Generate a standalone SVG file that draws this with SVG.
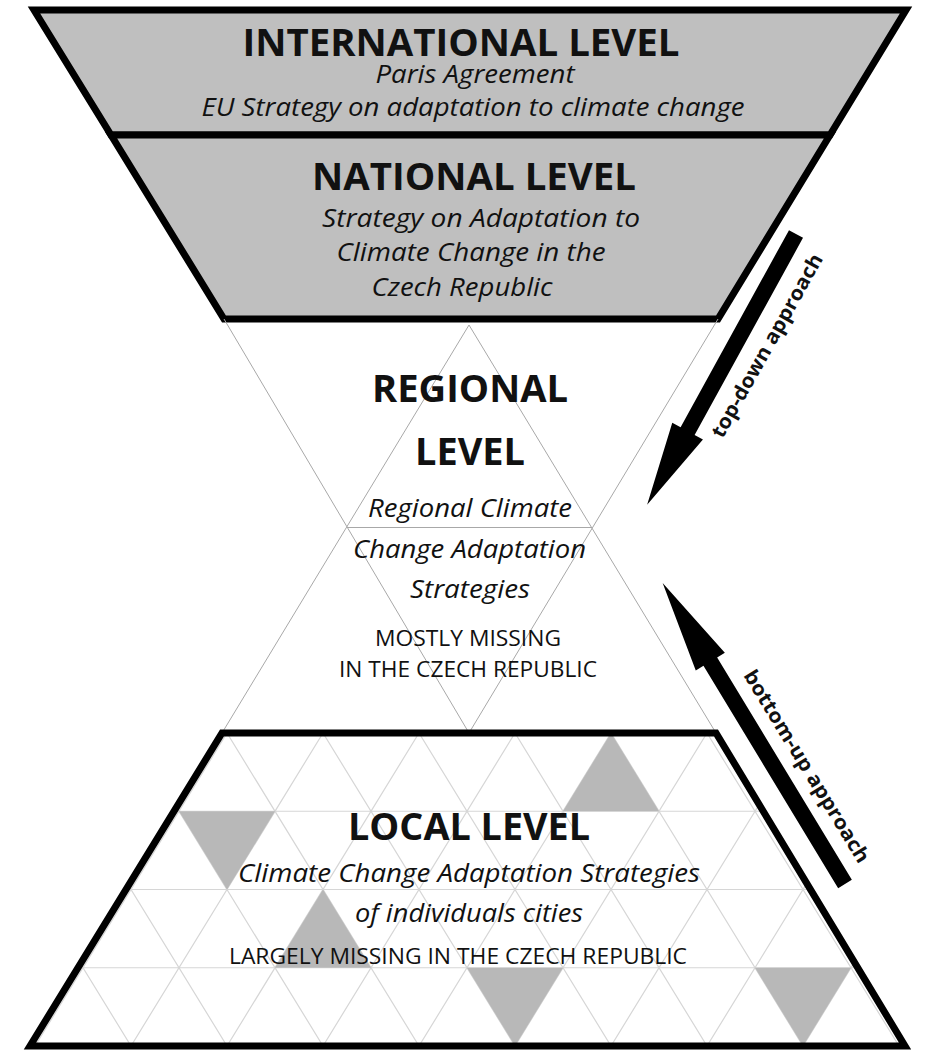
<svg xmlns="http://www.w3.org/2000/svg" width="925" height="1051" viewBox="0 0 925 1051">
<style>
text{font-family:"Open Sans","Liberation Sans",sans-serif;fill:#111;text-anchor:middle}
.title{font-size:38px;font-weight:bold}
.it{font-size:26px;font-style:italic}
.itr{font-size:25px;font-style:italic}
.cap{font-size:21px}
.lab{font-size:20px;font-weight:bold}
.band{fill:#bfbfbf;stroke:#000;stroke-width:7;stroke-linejoin:miter;stroke-miterlimit:10}
.frame{fill:none;stroke:#000;stroke-width:7;stroke-linejoin:miter;stroke-miterlimit:10}
.thin{fill:none;stroke:#a8a8a8;stroke-width:1}
.grid{fill:none;stroke:#d6d6d6;stroke-width:1.2}
.tri{fill:#b8b8b8}
.arrow{fill:#000}
</style>
<defs>
<clipPath id="localClip"><polygon points="222,733 716,733 905,1046 30,1046"/></clipPath>
</defs>
<rect width="925" height="1051" fill="#fff"/>

<g id="international">
<polygon class="band" points="34,10 906,10 830,135 111,135"/>
<text class="title" x="461" y="56" textLength="437" lengthAdjust="spacingAndGlyphs">INTERNATIONAL LEVEL</text>
<text class="it" x="475" y="83" textLength="199" lengthAdjust="spacingAndGlyphs">Paris Agreement</text>
<text class="it" x="473" y="116" textLength="543" lengthAdjust="spacingAndGlyphs">EU Strategy on adaptation to climate change</text>
</g>

<g id="national">
<polygon class="band" points="111,135 830,135 718,319 224,319"/>
<text class="title" x="474" y="190" textLength="324" lengthAdjust="spacingAndGlyphs">NATIONAL LEVEL</text>
<text class="it" x="481" y="227" textLength="318" lengthAdjust="spacingAndGlyphs">Strategy on Adaptation to</text>
<text class="it" x="471" y="261" textLength="269" lengthAdjust="spacingAndGlyphs">Climate Change in the</text>
<text class="it" x="462" y="296" textLength="181" lengthAdjust="spacingAndGlyphs">Czech Republic</text>
</g>

<g id="regional">
<path class="thin" d="M224,319 L469,733 M718,319 L469,733 M469,325 L222,733 M469,325 L716,733 M347,527.5 H592"/>
<text class="title" x="470" y="402" textLength="196" lengthAdjust="spacingAndGlyphs">REGIONAL</text>
<text class="title" x="470" y="465" textLength="110" lengthAdjust="spacingAndGlyphs">LEVEL</text>
<text class="itr" x="470" y="517" textLength="204" lengthAdjust="spacingAndGlyphs">Regional Climate</text>
<text class="itr" x="469.5" y="558" textLength="233" lengthAdjust="spacingAndGlyphs">Change Adaptation</text>
<text class="itr" x="470" y="598" textLength="120" lengthAdjust="spacingAndGlyphs">Strategies</text>
<text class="cap" x="468" y="646" textLength="186" lengthAdjust="spacingAndGlyphs">MOSTLY MISSING</text>
<text class="cap" x="468" y="677" textLength="258" lengthAdjust="spacingAndGlyphs">IN THE CZECH REPUBLIC</text>
</g>

<g id="local">
<g clip-path="url(#localClip)">
<path class="grid" d="M-157,733 L35,1046 M-61,733 L131,1046 M35,733 L227,1046 M131,733 L323,1046 M227,733 L419,1046 M323,733 L515,1046 M419,733 L611,1046 M515,733 L707,1046 M611,733 L803,1046 M707,733 L899,1046 M803,733 L995,1046
M227,733 L35,1046 M323,733 L131,1046 M419,733 L227,1046 M515,733 L323,1046 M611,733 L419,1046 M707,733 L515,1046 M803,733 L611,1046 M899,733 L707,1046 M995,733 L803,1046 M1091,733 L899,1046
M0,811.25 H925 M0,889.5 H925 M0,967.75 H925"/>
<polygon class="tri" points="611,733 563,811.25 659,811.25"/>
<polygon class="tri" points="179,811.25 275,811.25 227,889.5"/>
<polygon class="tri" points="323,889.5 275,967.75 371,967.75"/>
<polygon class="tri" points="467,967.75 563,967.75 515,1046"/>
<polygon class="tri" points="755,967.75 851,967.75 803,1046"/>
</g>
<polygon class="frame" points="222,733 716,733 905,1046 30,1046"/>
<text class="title" x="469" y="840" textLength="242" lengthAdjust="spacingAndGlyphs">LOCAL LEVEL</text>
<text class="it" x="469" y="882" textLength="462" lengthAdjust="spacingAndGlyphs">Climate Change Adaptation Strategies</text>
<text class="it" x="469" y="922" textLength="228" lengthAdjust="spacingAndGlyphs">of individuals cities</text>
<text class="cap" x="458" y="964" textLength="458" lengthAdjust="spacingAndGlyphs">LARGELY MISSING IN THE CZECH REPUBLIC</text>
</g>

<g id="connectors">
<g id="top-down">
<polygon class="arrow" transform="translate(796,234) rotate(118.8)" points="0,-8 225,-8 225,-17.5 309,0 225,17.5 225,8 0,8"/>
<text class="lab" transform="translate(773,349) rotate(-60.8)" textLength="207" lengthAdjust="spacingAndGlyphs">top-down approach</text>
</g>
<g id="bottom-up">
<polygon class="arrow" transform="translate(845,884) rotate(-121.2)" points="0,-8 260,-8 260,-17 352,0 260,17 260,8 0,8"/>
<text class="lab" transform="translate(801,770) rotate(58.5)" textLength="222" lengthAdjust="spacingAndGlyphs">bottom-up approach</text>
</g>
</g>
</svg>
